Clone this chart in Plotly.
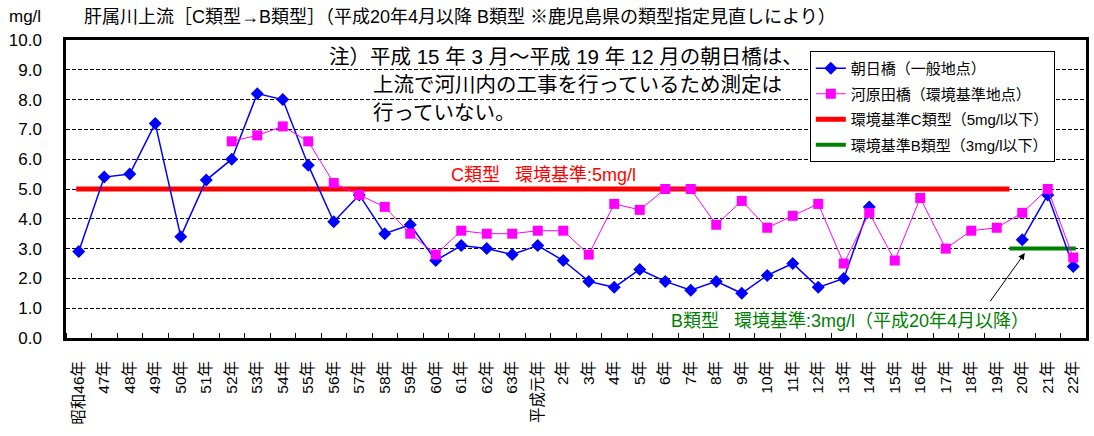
import plotly.graph_objects as go

categories = ["昭和46年", "47年", "48年", "49年", "50年", "51年", "52年", "53年", "54年", "55年",
              "56年", "57年", "58年", "59年", "60年", "61年", "62年", "63年", "平成元年", "2年",
              "3年", "4年", "5年", "6年", "7年", "8年", "9年", "10年", "11年", "12年",
              "13年", "14年", "15年", "16年", "17年", "18年", "19年", "20年", "21年", "22年"]

asahi = [2.9, 5.4, 5.5, 7.2, 3.4, 5.3, 6.0, 8.2, 8.0, 5.8,
         3.9, 4.8, 3.5, 3.8, 2.6, 3.1, 3.0, 2.8, 3.1, 2.6,
         1.9, 1.7, 2.3, 1.9, 1.6, 1.9, 1.5, 2.1, 2.5, 1.7,
         2.0, 4.4, None, None, None, None, None, 3.3, 4.8, 2.4]

kawarada = [None, None, None, None, None, None, 6.6, 6.8, 7.1, 6.6,
            5.2, 4.8, 4.4, 3.5, 2.8, 3.6, 3.5, 3.5, 3.6, 3.6,
            2.8, 4.5, 4.3, 5.0, 5.0, 3.8, 4.6, 3.7, 4.1, 4.5,
            2.5, 4.2, 2.6, 4.7, 3.0, 3.6, 3.7, 4.2, 5.0, 2.7]

c_std = 5.0
c_span = [-0.1, 36.5]
b_std = 3.0
b_span = [36.5, 39.1]

ytick_vals = [0, 1, 2, 3, 4, 5, 6, 7, 8, 9, 10]

FONT = "Liberation Sans, Arial, Noto Sans CJK JP, sans-serif"
x_idx = list(range(len(categories)))

W, H = 1094, 436
L, R, T, B = 66, 5, 40, 98
PW, PH = W - L - R, H - T - B


def px(x):
    return (x - L) / PW


def py(y):
    return (H - B - y) / PH


fig = go.Figure()

fig.add_trace(go.Scatter(
    x=c_span, y=[c_std, c_std], mode="lines", name="環境基準C類型（5mg/l以下）",
    line=dict(color="#FF0000", width=5), legendrank=3, legendgroup="c"))
fig.add_trace(go.Scatter(
    x=b_span, y=[b_std, b_std], mode="lines", name="環境基準B類型（3mg/l以下）",
    line=dict(color="#008000", width=4), legendrank=4, legendgroup="b"))
fig.add_trace(go.Scatter(
    x=x_idx, y=asahi, mode="lines+markers", name="朝日橋（一般地点）",
    line=dict(color="#0000FF", width=1.5),
    marker=dict(symbol="diamond", size=10, color="#0000FF"),
    connectgaps=False, legendrank=1, legendgroup="a"))
fig.add_trace(go.Scatter(
    x=x_idx, y=kawarada, mode="lines+markers", name="河原田橋（環境基準地点）",
    line=dict(color="#FF00FF", width=1),
    marker=dict(symbol="square", size=10, color="#FF00FF"),
    connectgaps=False, legendrank=2, legendgroup="k"))

# white box behind the note (covers grid lines)
fig.add_shape(type="rect", xref="paper", yref="paper",
              x0=px(318), x1=px(806), y0=py(118), y1=py(41),
              fillcolor="white", line=dict(width=0), layer="between")

annotations = [
    dict(text="mg/l", xref="paper", yref="paper", x=px(7), y=py(17),
         xanchor="left", yanchor="middle", showarrow=False, font=dict(size=17, color="black")),
    dict(text="肝属川上流［C類型→B類型］（平成20年4月以降 B類型 ※鹿児島県の類型指定見直しにより）",
         xref="paper", yref="paper", x=px(82), y=py(17),
         xanchor="left", yanchor="middle", showarrow=False, font=dict(size=18, color="black")),
    dict(text="注）平成 15 年 3 月～平成 19 年 12 月の朝日橋は、",
         xref="paper", yref="paper", x=px(328), y=py(57),
         xanchor="left", yanchor="middle", showarrow=False, font=dict(size=20.5, color="black")),
    dict(text="上流で河川内の工事を行っているため測定は",
         xref="paper", yref="paper", x=px(372), y=py(85),
         xanchor="left", yanchor="middle", showarrow=False, font=dict(size=20.5, color="black")),
    dict(text="行っていない。",
         xref="paper", yref="paper", x=px(372), y=py(112),
         xanchor="left", yanchor="middle", showarrow=False, font=dict(size=20.5, color="black")),
    dict(text="C類型   環境基準:5mg/l", xref="paper", yref="paper", x=px(545), y=py(175),
         xanchor="center", yanchor="middle",
         showarrow=False, font=dict(size=18, color="#FF0000")),
    dict(text="B類型   環境基準:3mg/l（平成20年4月以降）", xref="paper", yref="paper",
         x=px(852), y=py(321), xanchor="center", yanchor="middle",
         showarrow=False, font=dict(size=18, color="#008000")),
    dict(text="", x=37.1, y=2.85, ax=35.7, ay=1.18, xref="x", yref="y", axref="x", ayref="y",
         showarrow=True, arrowhead=2, arrowsize=1.3, arrowwidth=1, arrowcolor="black"),
]

fig.update_layout(
    width=W, height=H,
    margin=dict(l=L, r=R, t=T, b=B),
    paper_bgcolor="white", plot_bgcolor="white",
    font=dict(family=FONT, color="black"),
    showlegend=True,
    legend=dict(x=px(812), y=py(51), xanchor="left", yanchor="top",
                bgcolor="white", bordercolor="black", borderwidth=1,
                font=dict(size=15, color="black"), tracegroupgap=3),
    annotations=annotations,
)

fig.update_xaxes(
    range=[-0.5, 39.5], tickmode="array", tickvals=x_idx, ticktext=categories,
    tickangle=-90, ticks="", showgrid=False, zeroline=False,
    showline=True, mirror=True, linecolor="black", linewidth=2.5,
    tickfont=dict(size=15.5, color="black"), ticklabelstandoff=14,
    minor=dict(tick0=0.5, dtick=1, ticks="inside", ticklen=5, tickcolor="black", showgrid=False),
)
fig.update_yaxes(
    range=[0, 10], tickmode="array", tickvals=ytick_vals, tickformat=".1f",
    showgrid=True, gridcolor="black", gridwidth=1, griddash="4px,2px",
    zeroline=False, showline=True, mirror=True, linecolor="black", linewidth=2.5,
    ticks="", tickfont=dict(size=17, color="black"), ticklabelstandoff=18,
)

fig.write_html("out.html", config={"displayModeBar": False},
               post_script="document.body.style.margin='0px';")
